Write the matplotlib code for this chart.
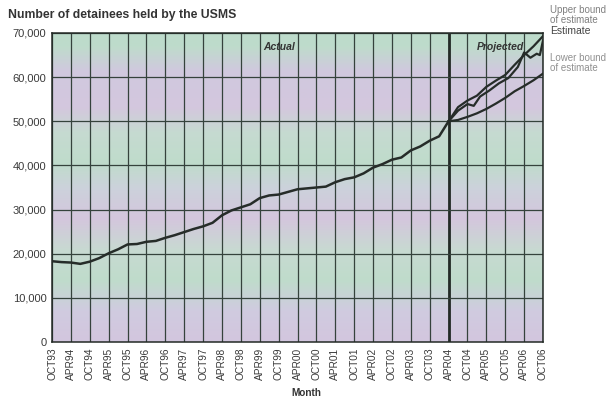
import matplotlib
matplotlib.use("Agg")
import matplotlib.pyplot as plt
import numpy as np
from matplotlib.colors import LinearSegmentedColormap

# ---- data ----
tick_labels = ["OCT93", "APR94", "OCT94", "APR95", "OCT95", "APR96", "OCT96", "APR97",
               "OCT97", "APR98", "OCT98", "APR99", "OCT99", "APR00", "OCT00", "APR01",
               "OCT01", "APR02", "OCT02", "APR03", "OCT03", "APR04", "OCT04", "APR05",
               "OCT05", "APR06", "OCT06"]

# months since Oct 1993
actual_months = list(range(0, 127, 3))
actual_values = [18300, 18100, 18000, 17700, 18200, 19000, 20100, 21000, 22100, 22200,
                 22700, 22900, 23600, 24200, 24900, 25600, 26200, 27000, 28700, 29800,
                 30500, 31200, 32600, 33200, 33400, 34000, 34600, 34800, 35000, 35200,
                 36200, 36900, 37300, 38200, 39500, 40300, 41300, 41800, 43400, 44300,
                 45600, 46600, 50000]

upper_months = [126, 129, 132, 135, 138, 141, 144, 147, 150, 153, 156]
upper_values = [50000, 53200, 54700, 55800, 57800, 59200, 60500, 62800, 65000, 67000, 69300]

estimate_months = [126, 129, 132, 134, 136, 139, 142, 145, 148, 150, 152, 154, 155, 156]
estimate_values = [50000, 52400, 53900, 53500, 55600, 57000, 58600, 59800, 62300, 65600,
                   64400, 65300, 65000, 68300]

lower_months = [126, 129, 132, 135, 138, 141, 144, 147, 150, 153, 156]
lower_values = [50000, 50300, 51000, 51800, 52800, 54000, 55300, 56800, 58000, 59300, 60800]

# ---- figure ----
W, H = 616, 400
FONT = "Liberation Sans"
fig = plt.figure(figsize=(W / 100, H / 100), dpi=100)
ax = fig.add_axes([52 / W, 1 - 342 / H, (543 - 52) / W, (342 - 33) / H])

# scanned-paper tinted background (pink / green bands)
cmap = LinearSegmentedColormap.from_list(
    "scan",
    [(0.0, "#d3c6de"), (0.10, "#d0cbe0"), (0.20, "#bfdccb"), (0.30, "#c8d9d2"),
     (0.40, "#d4c6dd"), (0.50, "#ccd2db"), (0.58, "#bfdccb"), (0.68, "#c6dad1"),
     (0.76, "#d4c7de"), (0.88, "#d0c9de"), (0.96, "#bedccb"), (1.0, "#bddbcb")])
grad = np.linspace(0, 1, 256).reshape(-1, 1)
ax.imshow(grad, aspect="auto", cmap=cmap, origin="lower",
          extent=[0, 1, 0, 1], transform=ax.transAxes, zorder=0)

ax.set_xlim(0, 156)
ax.set_ylim(0, 70000)

tick_pos = np.arange(len(tick_labels)) * 6
ax.set_xticks(tick_pos)
ax.set_xticklabels(tick_labels, rotation=90, fontsize=7.3, color="#3a3a3a",
                   family=FONT)
ax.set_yticks(np.arange(0, 70001, 10000))
ax.set_yticklabels([f"{v:,}" for v in range(0, 70001, 10000)], fontsize=8,
                   color="#3a3a3a", family=FONT)
ax.tick_params(length=0, pad=4)

for x in tick_pos:
    ax.axvline(x, color="#35423c", lw=0.9, zorder=1)
ax.axvline(126, color="#232a26", lw=2.0, zorder=1)
for y in range(10000, 70001, 10000):
    ax.axhline(y, color="#35423c", lw=0.9, zorder=1)

for s in ax.spines.values():
    s.set_color("#232a26")
    s.set_linewidth(1.1)

lc = "#262c29"
ax.plot(actual_months, actual_values, color=lc, lw=1.8, zorder=3)
ax.plot(upper_months, upper_values, color=lc, lw=1.6, zorder=3)
ax.plot(estimate_months, estimate_values, color=lc, lw=1.6, zorder=3)
ax.plot(lower_months, lower_values, color=lc, lw=1.6, zorder=3)

ax.text(72, 66800, "Actual", fontsize=7.5, fontweight="bold", style="italic",
        color="#333333", ha="center", va="center", family=FONT)
ax.text(142.5, 66800, "Projected", fontsize=7.5, fontweight="bold", style="italic",
        color="#333333", ha="center", va="center", family=FONT)

fig.text(8 / W, 1 - 15 / H, "Number of detainees held by the USMS", fontsize=8.8,
         fontweight="bold", color="#333333", ha="left", va="center", family=FONT)
fig.text(306 / W, 1 - 393 / H, "Month", fontsize=7.2, fontweight="bold",
         color="#333333", ha="center", va="center", family=FONT)

fig.text(550 / W, 1 - 15 / H, "Upper bound\nof estimate", fontsize=7,
         color="#808080", ha="left", va="center", linespacing=0.95, family=FONT)
fig.text(550 / W, 1 - 31 / H, "Estimate", fontsize=7.5, color="#454545",
         ha="left", va="center", family=FONT)
fig.text(550 / W, 1 - 63 / H, "Lower bound\nof estimate", fontsize=7,
         color="#909090", ha="left", va="center", linespacing=0.95, family=FONT)

fig.savefig("out.png", dpi=100, facecolor="white")
